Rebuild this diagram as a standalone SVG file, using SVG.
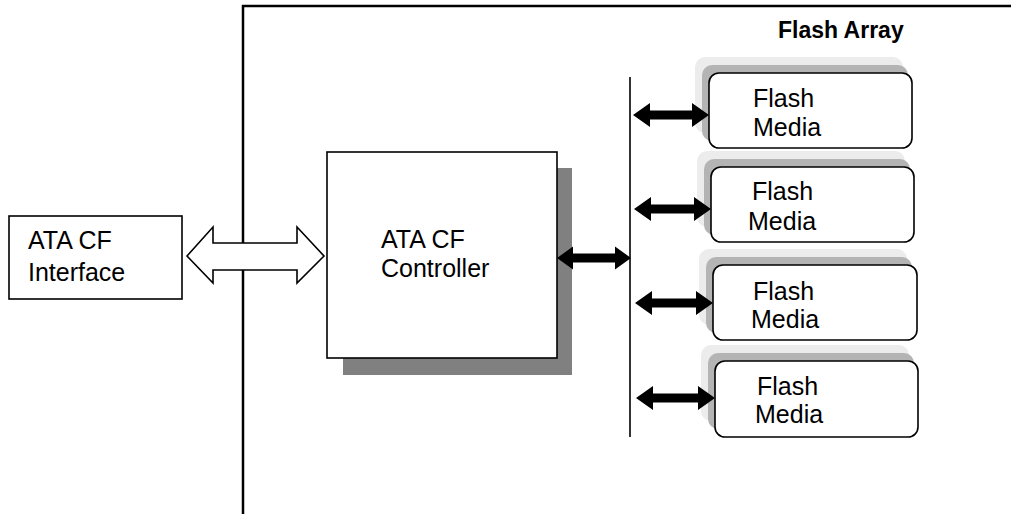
<svg xmlns="http://www.w3.org/2000/svg" width="1011" height="514" viewBox="0 0 1011 514">
<style>
text{font-family:"Liberation Sans",Arial,sans-serif;font-size:25px;fill:#000}
.title{font-weight:bold;font-size:23px}
.box{fill:#fff;stroke:#000;stroke-width:1.6}
.fm{fill:#fff;stroke:#000;stroke-width:1.6}
.sh1{fill:#ececec}
.sh2{fill:#b4b4b4}
.arr{fill:#000;stroke:none}
</style>
<rect width="1011" height="514" fill="#fff"/>
<g id="frame">
<path d="M243,514 V6 H1011" fill="none" stroke="#000" stroke-width="2.5"/>
<text class="title" x="778" y="38">Flash Array</text>
</g>
<g id="interface">
<rect class="box" x="9" y="216" width="173" height="83"/>
<text x="28" y="249">ATA CF</text>
<text x="28" y="281">Interface</text>
</g>
<g id="controller">
<rect x="343" y="168" width="229" height="207" fill="#808080"/>
<rect class="box" x="327" y="152" width="230" height="206"/>
<text x="381" y="248">ATA CF</text>
<text x="381" y="277">Controller</text>
</g>
<g id="bus">
<line x1="630" y1="77" x2="630" y2="437" stroke="#000" stroke-width="1.6"/>
</g>
<g id="flash1">
<rect class="sh1" x="695" y="57" width="208" height="76" rx="10"/>
<rect class="sh2" x="702" y="65" width="206" height="76" rx="10"/>
<rect class="fm" x="709" y="73" width="203" height="75" rx="10"/>
<text x="753" y="107">Flash</text>
<text x="753" y="136">Media</text>
</g>
<g id="flash2">
<rect class="sh1" x="697" y="151" width="208" height="76" rx="10"/>
<rect class="sh2" x="704" y="159" width="206" height="76" rx="10"/>
<rect class="fm" x="711" y="167" width="203" height="75" rx="10"/>
<text x="752" y="200">Flash</text>
<text x="748" y="230">Media</text>
</g>
<g id="flash3">
<rect class="sh1" x="699" y="249" width="208" height="76" rx="10"/>
<rect class="sh2" x="706" y="257" width="206" height="76" rx="10"/>
<rect class="fm" x="713" y="265" width="204" height="75" rx="10"/>
<text x="753" y="300">Flash</text>
<text x="751" y="328">Media</text>
</g>
<g id="flash4">
<rect class="sh1" x="701" y="345" width="208" height="76" rx="10"/>
<rect class="sh2" x="708" y="353" width="206" height="76" rx="10"/>
<rect class="fm" x="715" y="361" width="203" height="76" rx="10"/>
<text x="757" y="395">Flash</text>
<text x="755" y="423">Media</text>
</g>
<g id="connectors">
<polygon points="187,256 213,227 213,243 297,243 297,227 324,256 297,283 297,270 213,270 213,283" fill="#fff" stroke="#000" stroke-width="1.6" stroke-linejoin="miter"/>
<polygon class="arr" points="557,258 573,246.5 573,253.5 615,253.5 615,246.5 631,258 615,269.5 615,262.5 573,262.5 573,269.5"/>
<polygon class="arr" points="633,115 650,103 650,110.5 692,110.5 692,103 709,115 692,127 692,119.5 650,119.5 650,127"/>
<polygon class="arr" points="634,209 651,197 651,204.5 694,204.5 694,197 711,209 694,221 694,213.5 651,213.5 651,221"/>
<polygon class="arr" points="635,303 652,291 652,298.5 696,298.5 696,291 713,303 696,315 696,307.5 652,307.5 652,315"/>
<polygon class="arr" points="636,398 653,386 653,393.5 698,393.5 698,386 715,398 698,410 698,402.5 653,402.5 653,410"/>
</g>
</svg>
